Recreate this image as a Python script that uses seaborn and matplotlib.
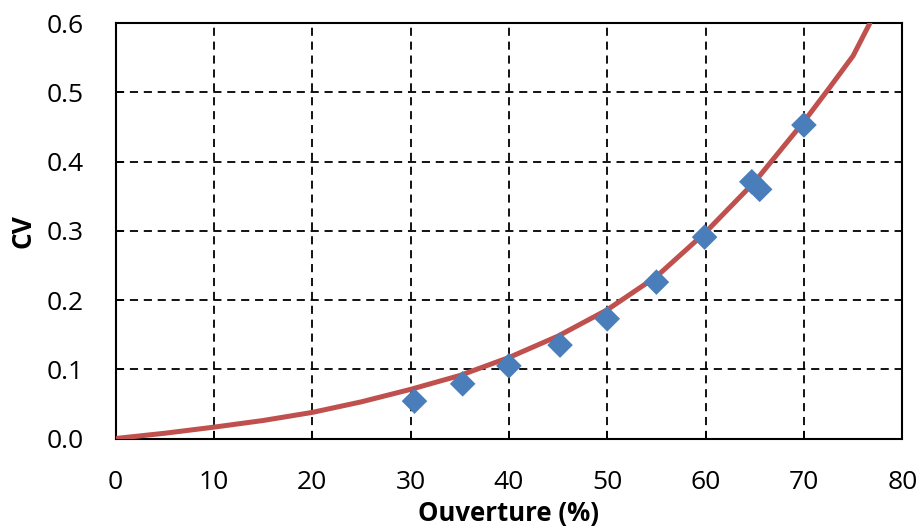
import matplotlib
matplotlib.use("Agg")
import matplotlib.pyplot as plt
import seaborn as sns
import pandas as pd

# Measured points (diamonds)
ouverture_pts = [30.4, 35.3, 40.0, 45.2, 50.0, 55.0, 59.9, 64.7, 65.5, 70.0]
cv_pts = [0.054, 0.079, 0.105, 0.135, 0.173, 0.226, 0.291, 0.371, 0.360, 0.453]

# Fitted curve
ouverture_fit = [0, 5, 10, 15, 20, 25, 30, 35, 40, 45, 50, 55, 60, 65, 70, 72.5, 75, 76.7]
cv_fit = [0.0, 0.0076, 0.0164, 0.026, 0.0377, 0.053, 0.071, 0.091, 0.117, 0.148,
          0.186, 0.234, 0.298, 0.371, 0.458, 0.505, 0.553, 0.600]

x_ticks = [0, 10, 20, 30, 40, 50, 60, 70, 80]
y_ticks = [0.0, 0.1, 0.2, 0.3, 0.4, 0.5, 0.6]

sns.set_theme(style="white")
plt.rcParams['font.family'] = ['Open Sans', 'DejaVu Sans']
plt.rcParams.update({
    "xtick.direction": "in", "ytick.direction": "in",
    "xtick.bottom": True, "ytick.left": True,
    "xtick.major.size": 6, "ytick.major.size": 6,
    "xtick.major.width": 1.3, "ytick.major.width": 1.3,
    "xtick.major.pad": 36, "ytick.major.pad": 23,
    "xtick.labelsize": 19, "ytick.labelsize": 19,
    "xtick.color": "black", "ytick.color": "black",
})

fig = plt.figure(figsize=(9.22, 5.28), dpi=100)
ax = fig.add_axes([0.1253, 0.1695, 0.9786 - 0.1253, 0.9559 - 0.1695])

df_fit = pd.DataFrame({"x": ouverture_fit, "y": cv_fit})
df_pts = pd.DataFrame({"x": ouverture_pts, "y": cv_pts})

sns.lineplot(data=df_fit, x="x", y="y", ax=ax, color="#C0504D", linewidth=3.6,
             zorder=3)
sns.scatterplot(data=df_pts, x="x", y="y", ax=ax, marker="D", s=170,
                color="#4A7EBB", edgecolor="none", zorder=4, clip_on=False)

ax.set_xlim(0, 80)
ax.set_ylim(0, 0.6)
ax.set_xticks(x_ticks)
ax.set_yticks(y_ticks)
ax.set_xticklabels([str(v) for v in x_ticks], va="baseline")
ax.set_yticklabels([f"{v:.1f}" for v in y_ticks])

ax.grid(True, color="black", linestyle=(0, (4.5, 3.2)), linewidth=1.3)
ax.set_axisbelow(True)
for s in ax.spines.values():
    s.set_color("black")
    s.set_linewidth(1.5)
    s.set_visible(True)

ax.set_xlabel("Ouverture (%)", fontsize=18.5, fontweight="bold", color="black", labelpad=4)
ax.set_ylabel("CV", fontsize=19, fontweight="bold", color="black", labelpad=7)

fig.savefig("out.png", dpi=100)
